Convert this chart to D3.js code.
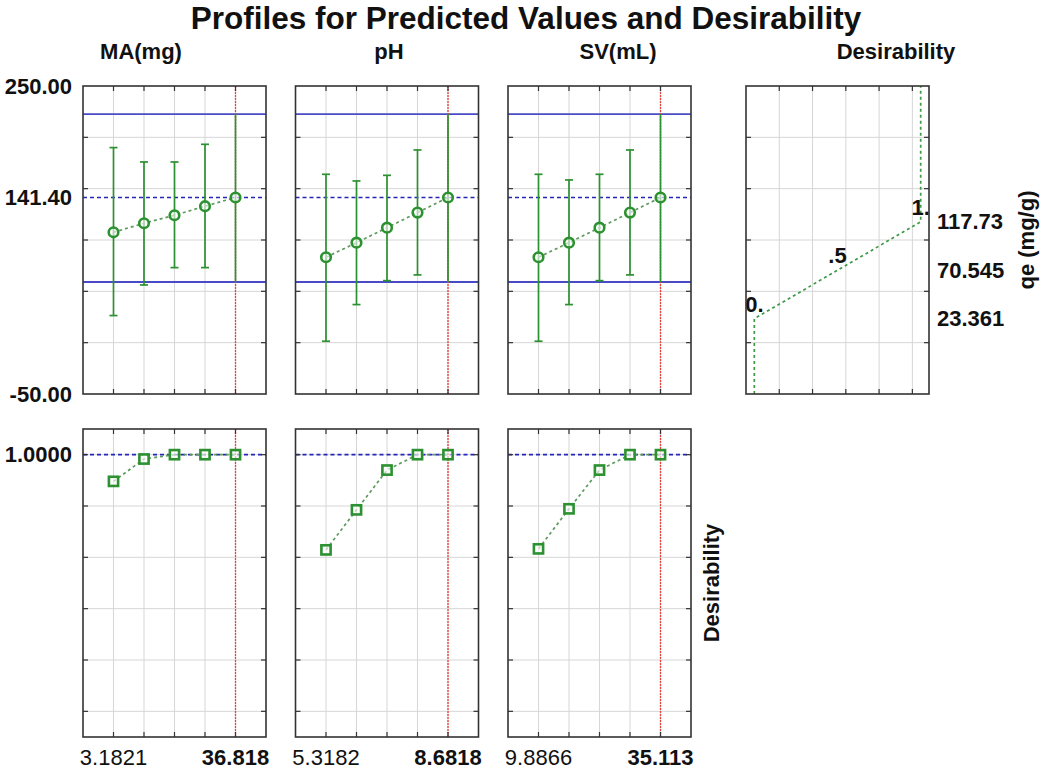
<!DOCTYPE html>
<html>
<head>
<meta charset="utf-8">
<script src="https://cdn.jsdelivr.net/npm/d3@7"></script>
<style>
  body { margin: 0; background: #fff; }
  text { font-family: "Liberation Sans", Arial, sans-serif; fill: #111; }
</style>
</head>
<body>
<script>
// factor names and the 5 levels profiled for each
const factors = ["MA(mg)", "pH", "SV(mL)"];
const maLevels = [3.1821, 11.591, 20.0, 28.409, 36.818];
const phLevels = [5.3182, 6.1591, 7.0, 7.8409, 8.6818];
const svLevels = [9.8866, 16.193, 22.500, 28.806, 35.113];

// predicted qe with confidence limits
const maPred  = [107.5, 116.3, 124.1, 132.9, 141.4];
const maLower = [26.4, 56.2, 73.1, 73.1, 59.1];
const maUpper = [190.0, 176.0, 176.0, 193.2, 222.7];
const phPred  = [83.2, 97.4, 112.0, 126.7, 141.4];
const phLower = [1.4, 37.1, 60.4, 66.0, 59.1];
const phUpper = [164.0, 157.5, 163.0, 187.7, 222.7];
const svPred  = [83.2, 97.4, 112.0, 126.7, 141.4];
const svLower = [1.4, 37.1, 60.4, 66.0, 59.1];
const svUpper = [164.0, 158.5, 164.0, 187.7, 222.7];

// desirability at each level
const maDes = [0.896, 0.983, 1.0, 1.0, 1.0];
const phDes = [0.629, 0.785, 0.94, 1.0, 1.0];
const svDes = [0.633, 0.789, 0.94, 1.0, 1.0];

// current setting (red line) and the prediction there
const currentIndex = 4;
const currentPred = 141.40;
const currentLower = 59.1;
const currentUpper = 222.7;

// desirability function for qe
const desQe = [-50, 23.361, 70.545, 117.73, 250];
const desVal = [0, 0, 0.5, 1, 1];
const desLabelIdx = [1, 2, 3];
const desLabels = ["0.", ".5", "1."];

// axes
const qeDomain = [-50, 250];
const qeGrid = [0, 50, 100, 150, 200];
const qeTickLabels = [250, 141.40, -50];
const dDomain = [-0.1, 1.1];
const dGrid = [0, 0.2, 0.4, 0.6, 0.8, 1.0];
const dTickLabels = [1.0];
const dFuncGrid = [0.15, 0.35, 0.55, 0.75, 0.95];

const levels = [maLevels, phLevels, svLevels];
const preds = [maPred, phPred, svPred];
const lowers = [maLower, phLower, svLower];
const uppers = [maUpper, phUpper, svUpper];
const desir = [maDes, phDes, svDes];

// layout
const W = 1052, H = 771;
const panelW = 183, panelH = 308;
const colX = [83, 295.5, 508, 746];
const rowY = [86, 429];
const titleX = [141, 389, 618, 896];

const green = "#2c9130";
const redLine = "#e8403a";
const svg = d3.select("body").append("svg").attr("width", W).attr("height", H);

const yQe = d3.scaleLinear().domain(qeDomain).range([panelH, 0]);
const yD = d3.scaleLinear().domain(dDomain).range([panelH, 0]);

// d3 formats negatives with a unicode minus, the chart uses a plain hyphen
function hy(s) { return s.replace("\u2212", "-"); }

svg.append("text")
    .attr("x", 526).attr("y", 29)
    .attr("text-anchor", "middle")
    .style("font-size", "31.5px").style("font-weight", "bold")
    .text("Profiles for Predicted Values and Desirability");

svg.selectAll(".coltitle")
    .data(factors.concat(["Desirability"]))
    .enter().append("text")
    .attr("class", "coltitle")
    .attr("x", function(d, i) { return titleX[i]; })
    .attr("y", 59)
    .attr("text-anchor", "middle")
    .style("font-size", "22px").style("font-weight", "bold")
    .text(function(d) { return d; });

// grid lines inside a panel
function drawGrid(g, xs, ys) {
    g.selectAll(".vg").data(xs).enter().append("line")
        .attr("x1", function(d) { return d; }).attr("x2", function(d) { return d; })
        .attr("y1", 0).attr("y2", panelH)
        .style("stroke", "#d6d6d6").style("stroke-width", 1);
    g.selectAll(".hg").data(ys).enter().append("line")
        .attr("y1", function(d) { return d; }).attr("y2", function(d) { return d; })
        .attr("x1", 0).attr("x2", panelW)
        .style("stroke", "#d6d6d6").style("stroke-width", 1);
}

// border and small inward ticks
function drawFrame(g, xs, ys) {
    let tl = 5;
    let t = g.append("g");
    xs.forEach(function(x) {
        t.append("line").attr("x1", x).attr("x2", x).attr("y1", 0).attr("y2", tl);
        t.append("line").attr("x1", x).attr("x2", x).attr("y1", panelH).attr("y2", panelH - tl);
    });
    ys.forEach(function(y) {
        t.append("line").attr("y1", y).attr("y2", y).attr("x1", 0).attr("x2", tl);
        t.append("line").attr("y1", y).attr("y2", y).attr("x1", panelW).attr("x2", panelW - tl);
    });
    t.selectAll("line").style("stroke", "#333").style("stroke-width", 1.2);
    g.append("rect")
        .attr("x", 0).attr("y", 0).attr("width", panelW).attr("height", panelH)
        .style("fill", "none").style("stroke", "#333").style("stroke-width", 1.6);
}

function redMarker(g, cx) {
    g.append("line")
        .attr("x1", cx).attr("x2", cx).attr("y1", 0).attr("y2", panelH)
        .style("stroke", redLine).style("stroke-width", 1.3).style("stroke-dasharray", "2,1");
}

factors.forEach(function(name, i) {
    let lv = levels[i];
    let step = (lv[lv.length - 1] - lv[0]) / (lv.length - 1);
    let x = d3.scaleLinear()
        .domain([lv[0] - step, lv[lv.length - 1] + step])
        .range([0, panelW]);
    let xs = lv.map(function(d) { return x(d); });
    let cx = x(lv[currentIndex]);

    // ---- top row: predicted qe ----
    let top = svg.append("g").attr("transform", "translate(" + colX[i] + "," + rowY[0] + ")");
    drawGrid(top, xs, qeGrid.map(yQe));

    [currentLower, currentUpper].forEach(function(v) {
        top.append("line")
            .attr("x1", 0).attr("x2", panelW).attr("y1", yQe(v)).attr("y2", yQe(v))
            .style("stroke", "#4a4ac6").style("stroke-width", 1.8);
    });
    top.append("line")
        .attr("x1", 0).attr("x2", panelW).attr("y1", yQe(currentPred)).attr("y2", yQe(currentPred))
        .style("stroke", "#2626b8").style("stroke-width", 1.6).style("stroke-dasharray", "4,3");
    redMarker(top, cx);

    let pts = lv.map(function(d, k) {
        return { x: d, p: preds[i][k], lo: lowers[i][k], hi: uppers[i][k] };
    });

    // error bars
    top.selectAll(".eb").data(pts).enter().append("line")
        .attr("x1", function(d) { return x(d.x); }).attr("x2", function(d) { return x(d.x); })
        .attr("y1", function(d) { return yQe(d.lo); }).attr("y2", function(d) { return yQe(d.hi); })
        .style("stroke", green).style("stroke-width", 1.7);
    top.selectAll(".capl").data(pts.slice(0, currentIndex)).enter().append("line")
        .attr("x1", function(d) { return x(d.x) - 4; }).attr("x2", function(d) { return x(d.x) + 4; })
        .attr("y1", function(d) { return yQe(d.lo); }).attr("y2", function(d) { return yQe(d.lo); })
        .style("stroke", green).style("stroke-width", 1.7);
    top.selectAll(".caph").data(pts.slice(0, currentIndex)).enter().append("line")
        .attr("x1", function(d) { return x(d.x) - 4; }).attr("x2", function(d) { return x(d.x) + 4; })
        .attr("y1", function(d) { return yQe(d.hi); }).attr("y2", function(d) { return yQe(d.hi); })
        .style("stroke", green).style("stroke-width", 1.7);

    top.append("path")
        .datum(pts)
        .attr("d", d3.line().x(function(d) { return x(d.x); }).y(function(d) { return yQe(d.p); }))
        .style("fill", "none").style("stroke", "#5f9a5f").style("stroke-width", 1.7)
        .style("stroke-dasharray", "3,3");
    top.selectAll(".pt").data(pts).enter().append("circle")
        .attr("cx", function(d) { return x(d.x); })
        .attr("cy", function(d) { return yQe(d.p); })
        .attr("r", 4.8)
        .style("fill", "#fff").style("fill-opacity", 0.6)
        .style("stroke", green).style("stroke-width", 2.6);

    drawFrame(top, xs, qeGrid.map(yQe));

    // ---- bottom row: desirability ----
    let bot = svg.append("g").attr("transform", "translate(" + colX[i] + "," + rowY[1] + ")");
    drawGrid(bot, xs, dGrid.map(yD));
    bot.append("line")
        .attr("x1", 0).attr("x2", panelW).attr("y1", yD(1)).attr("y2", yD(1))
        .style("stroke", "#2626b8").style("stroke-width", 1.6).style("stroke-dasharray", "4,3");
    redMarker(bot, cx);

    let dpts = lv.map(function(d, k) { return { x: d, v: desir[i][k] }; });
    bot.append("path")
        .datum(dpts)
        .attr("d", d3.line().x(function(d) { return x(d.x); }).y(function(d) { return yD(d.v); }))
        .style("fill", "none").style("stroke", "#5f9a5f").style("stroke-width", 1.7)
        .style("stroke-dasharray", "3,3");
    bot.selectAll(".sq").data(dpts).enter().append("rect")
        .attr("x", function(d) { return x(d.x) - 4.6; })
        .attr("y", function(d) { return yD(d.v) - 4.6; })
        .attr("width", 9.2).attr("height", 9.2)
        .style("fill", "#fff").style("fill-opacity", 0.6)
        .style("stroke", green).style("stroke-width", 2.6);
    drawFrame(bot, xs, dGrid.map(yD));

    // x labels under bottom row
    let fmt = d3.format(".5r");
    bot.append("text")
        .attr("x", x(lv[0])).attr("y", panelH + 28)
        .attr("text-anchor", "middle")
        .style("font-size", "22px")
        .text(fmt(lv[0]));
    bot.append("text")
        .attr("x", x(lv[currentIndex])).attr("y", panelH + 28)
        .attr("text-anchor", "middle")
        .style("font-size", "22px").style("font-weight", "bold")
        .text(fmt(lv[currentIndex]));
});

// y labels on the left
let yl = svg.append("g").attr("transform", "translate(0," + rowY[0] + ")");
yl.selectAll("text").data(qeTickLabels).enter().append("text")
    .attr("x", 72).attr("y", function(d) { return yQe(d) + 7.5; })
    .attr("text-anchor", "end")
    .style("font-size", "22px").style("font-weight", "bold")
    .text(function(d) { return hy(d3.format(".2f")(d)); });
let yl2 = svg.append("g").attr("transform", "translate(0," + rowY[1] + ")");
yl2.selectAll("text").data(dTickLabels).enter().append("text")
    .attr("x", 72).attr("y", function(d) { return yD(d) + 7.5; })
    .attr("text-anchor", "end")
    .style("font-size", "22px").style("font-weight", "bold")
    .text(function(d) { return d3.format(".4f")(d); });

// ---- desirability function panel ----
let xDes = d3.scaleLinear().domain([-0.05, 1.05]).range([0, panelW]);
let dp = svg.append("g").attr("transform", "translate(" + colX[3] + "," + rowY[0] + ")");
drawGrid(dp, dFuncGrid.map(xDes), qeGrid.map(yQe));
let fpts = desQe.map(function(q, k) { return { q: q, d: desVal[k] }; });
dp.append("path")
    .datum(fpts)
    .attr("d", d3.line().x(function(d) { return xDes(d.d); }).y(function(d) { return yQe(d.q); }))
    .style("fill", "none").style("stroke", "#3f9a47").style("stroke-width", 1.7)
    .style("stroke-dasharray", "3,3");
dp.selectAll(".dl").data(desLabelIdx).enter().append("text")
    .attr("x", function(k) { return xDes(desVal[k]); })
    .attr("y", function(k) { return yQe(desQe[k]) - 7; })
    .attr("text-anchor", "middle")
    .style("font-size", "22px").style("font-weight", "bold")
    .text(function(k, j) { return desLabels[j]; });
drawFrame(dp, dFuncGrid.map(xDes), qeGrid.map(yQe));

dp.selectAll(".rl").data(desLabelIdx).enter().append("text")
    .attr("x", panelW + 8)
    .attr("y", function(k) { return yQe(desQe[k]) + 7.5; })
    .style("font-size", "22px").style("font-weight", "bold")
    .text(function(k) { return d3.format(".5r")(desQe[k]); });

// rotated axis titles
svg.append("text")
    .attr("transform", "translate(1034," + (rowY[0] + panelH / 2) + ") rotate(-90)")
    .attr("text-anchor", "middle")
    .style("font-size", "22px").style("font-weight", "bold")
    .text("qe (mg/g)");
svg.append("text")
    .attr("transform", "translate(719," + (rowY[1] + panelH / 2) + ") rotate(-90)")
    .attr("text-anchor", "middle")
    .style("font-size", "22px").style("font-weight", "bold")
    .text("Desirability");
</script>
</body>
</html>
